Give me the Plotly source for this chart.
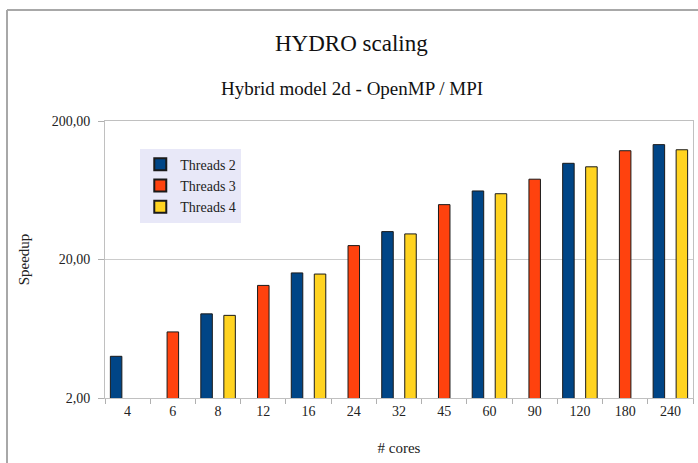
import math
import plotly.graph_objects as go

cores = ["4", "6", "8", "12", "16", "24", "32", "45", "60", "90", "120", "180", "240"]
threads2 = [4.0, None, 8.1, None, 16.0, None, 31.8, None, 62.5, None, 99.0, None, 135.0]
threads3 = [None, 6.0, None, 13.0, None, 25.2, None, 49.8, None, 76.0, None, 122.0, None]
threads4 = [None, None, 7.9, None, 15.7, None, 30.6, None, 59.7, None, 93.4, None, 124.0]
series_names = ["Threads 2", "Threads 3", "Threads 4"]
colors = ["#004586", "#ff420e", "#ffd320"]

serif = "Liberation Serif, Times New Roman, serif"

fig = go.Figure()
for name, vals, col in zip(series_names, [threads2, threads3, threads4], colors):
    fig.add_trace(go.Bar(
        x=cores, y=vals, name=name,
        marker=dict(color=col, line=dict(color="#1a1a1a", width=1)),
    ))

fig.update_layout(
    width=698, height=463,
    margin=dict(l=105, r=5, t=121, b=65),
    paper_bgcolor="white", plot_bgcolor="white",
    barmode="group", bargap=0.237, bargroupgap=0,
    font=dict(family=serif, size=13, color="#222222"),
    showlegend=True,
    legend=dict(
        x=0.06, y=0.9, xanchor="left", yanchor="top",
        bgcolor="#e8e8f8", borderwidth=0,
        font=dict(family=serif, size=14, color="#222222"),
        itemsizing="constant", tracegroupgap=0, itemwidth=30,
    ),
    annotations=[
        dict(text="HYDRO scaling", x=0.42, y=43, xref="paper", yref="paper",
             showarrow=False, font=dict(family=serif, size=23, color="#111111")),
        dict(text="Hybrid model 2d - OpenMP / MPI", x=0.42, y=89, xref="paper", yref="paper",
             showarrow=False, font=dict(family=serif, size=19, color="#111111")),
    ],
)
ph = 463 - 121 - 65
for a in fig.layout.annotations:
    a.y = (398 - a.y) / ph
    a.yanchor = "middle"

fig.update_xaxes(
    type="category", tickson="boundaries", ticks="outside", ticklen=5,
    tickcolor="#b0b0b0", showline=True, linecolor="#c0c0c0", linewidth=1, mirror=True,
    showgrid=False,
    tickfont=dict(family=serif, size=14, color="#222222"),
    title=dict(text="# cores", font=dict(family=serif, size=15, color="#222222"), standoff=24),
)
fig.update_yaxes(
    type="log", range=[math.log10(2), math.log10(200)],
    tickvals=[2, 20, 200], ticktext=["2,00", "20,00", "200,00"],
    ticks="outside", ticklen=6, tickcolor="#b0b0b0", ticklabelstandoff=5,
    showline=True, linecolor="#c0c0c0", linewidth=1, mirror=True,
    showgrid=True, gridcolor="#cccccc", gridwidth=1,
    tickfont=dict(family=serif, size=14, color="#222222"),
    title=dict(text="Speedup", font=dict(family=serif, size=15, color="#222222"), standoff=18),
)

# window frame of the screenshot
fig.add_shape(type="line", xref="paper", yref="paper",
              x0=(7 - 105) / 588, x1=(698 - 105) / 588,
              y0=(398 - 10) / ph, y1=(398 - 10) / ph,
              line=dict(color="#a8a8a8", width=2))
fig.add_shape(type="line", xref="paper", yref="paper",
              x0=(7 - 105) / 588, x1=(7 - 105) / 588,
              y0=(398 - 10) / ph, y1=(398 - 463) / ph,
              line=dict(color="#a8a8a8", width=2))

fig.write_html("out.html")
